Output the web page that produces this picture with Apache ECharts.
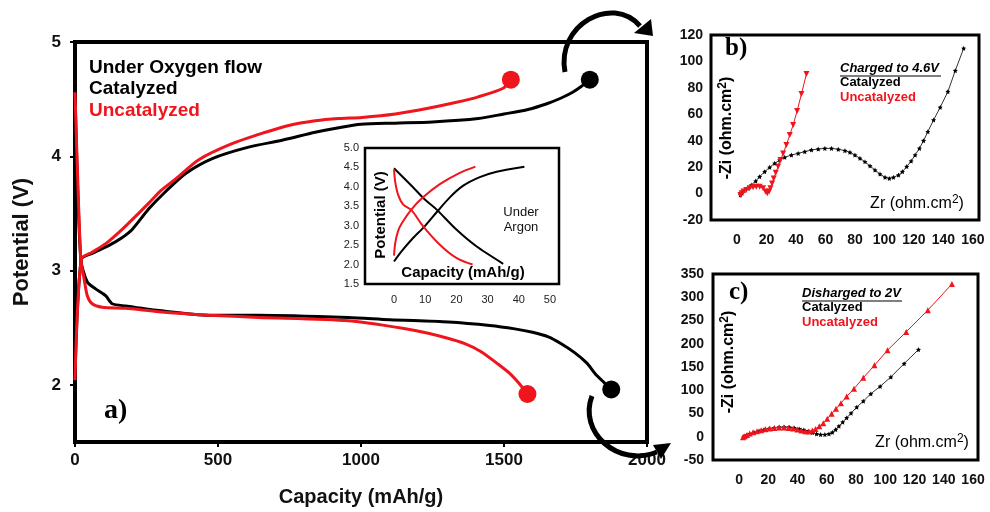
<!DOCTYPE html>
<html>
<head>
<meta charset="utf-8">
<script src="https://cdn.jsdelivr.net/npm/echarts@6/dist/echarts.min.js"></script>
<style>
html,body{margin:0;padding:0;background:#fff;}
#chart{width:990px;height:512px;}
</style>
</head>
<body>
<div id="chart"></div>
<script>
// ---- a) Li-O2 cell under oxygen flow: [capacity mAh/g, potential V] ----
const oxCatCharge = [[0,2.08],[22,3.1],[60,3.15],[119,3.22],[160,3.28],[200,3.36],[258,3.54],[316,3.69],[387,3.85],[480,3.98],[607,4.08],[724,4.14],[840,4.21],[922,4.25],[1000,4.28],[1119,4.29],[1250,4.3],[1410,4.33],[1500,4.37],[1584,4.41],[1650,4.46],[1700,4.51],[1740,4.56],[1770,4.61],[1800,4.67]];
const oxCatDischarge = [[0,4.56],[20,3.1],[43,2.9],[72,2.84],[107,2.78],[130,2.71],[177,2.69],[293,2.65],[467,2.61],[642,2.61],[956,2.59],[1100,2.57],[1305,2.55],[1450,2.52],[1538,2.49],[1600,2.46],[1655,2.42],[1700,2.36],[1748,2.28],[1790,2.19],[1818,2.1],[1850,2.02],[1875,1.96]];
const oxUncatCharge = [[0,2.04],[22,3.1],[60,3.16],[110,3.24],[165,3.36],[210,3.47],[258,3.59],[300,3.7],[351,3.8],[433,3.97],[549,4.11],[666,4.21],[747,4.27],[840,4.31],[922,4.33],[1003,4.34],[1120,4.37],[1235,4.42],[1330,4.47],[1410,4.52],[1497,4.595],[1524,4.67]];
const oxUncatDischarge = [[0,4.56],[20,3.1],[31,2.94],[43,2.78],[60,2.71],[95,2.68],[177,2.67],[293,2.64],[467,2.61],[642,2.59],[956,2.56],[1189,2.475],[1300,2.41],[1363,2.36],[1420,2.29],[1480,2.18],[1520,2.1],[1550,2.02],[1582,1.92]];

// ---- inset: same cells under argon ----
const arCatCharge = [[0,2.08],[2.4,2.34],[5.6,2.64],[9.9,2.99],[13.6,3.34],[17.9,3.73],[22.2,4.03],[27.5,4.25],[32.9,4.39],[41.8,4.52]];
const arCatDischarge = [[0,4.48],[6.1,3.99],[9.8,3.68],[13.6,3.42],[20,2.9],[26.4,2.47],[35,2.02]];
const arUncatCharge = [[0,2.23],[0.4,2.56],[1.3,2.86],[2.4,3.05],[5.6,3.42],[9.3,3.73],[14.7,4.07],[21.1,4.36],[26.1,4.52]];
const arUncatDischarge = [[0,4.45],[0.4,4.12],[1.3,3.8],[2.9,3.55],[5.6,3.4],[9.3,2.99],[14.7,2.51],[20,2.17],[25.2,2.0]];

// ---- b) impedance after charging to 4.6 V: [Zr, -Zi] ohm.cm2 ----
const chgCat = [[2.3,-1.1],[3.4,0.2],[4.8,2.2],[7,4],[9.7,6.5],[12.7,9.5],[15.4,12.8],[18.8,16.6],[22.2,19.9],[25.6,22.9],[29,25.4],[32.4,27.4],[36.9,29.2],[41.5,30.4],[46,31.7],[50.5,33],[55.1,33.7],[59.6,34.2],[64.1,34.2],[68.7,33.5],[73.2,32.5],[76.6,31.2],[80,29.2],[83.4,26.7],[86.8,24.1],[90.2,20.9],[93.6,17.8],[97,14.8],[100.4,12.3],[103.3,11.5],[106.1,12.3],[109.5,14],[112.2,16.6],[115.1,20.4],[118.1,24.6],[120.8,29.2],[123.7,34.2],[126.5,40],[129.4,46.8],[133.3,55.7],[137.8,65.3],[143,77.1],[148,93],[153.7,109.9]];
const chgUncat = [[2.3,-1.1],[3.2,0.2],[4.5,1.5],[6.3,2.7],[8.6,4],[10.9,4.7],[13.1,5.2],[15.4,5.2],[17.7,4],[19.3,1.5],[20.6,0.2],[21.8,1.5],[22.7,4],[23.8,7.7],[24.9,11.5],[26.3,15.8],[27.9,20.4],[29.5,25.4],[31.3,30.4],[33.5,36.8],[35.8,44.3],[38.1,51.9],[40.8,62.5],[43.7,75.3],[47.1,90.5]];

// ---- c) impedance after discharging to 2 V ----
const disCat = [[3.2,0.4],[5,3.2],[7.3,6.1],[10.3,9],[13.7,12.6],[17.1,15.5],[20.6,17.6],[24,19],[27.4,20.5],[30.9,20.5],[34.3,20.5],[37.7,19],[41.1,16.9],[44.3,14.7],[47.3,11.9],[50.3,9],[53,6.1],[55.8,4.7],[58.7,4.7],[61.5,6.1],[63.8,9.7],[66.1,15.5],[68.3,22.7],[70.9,31.3],[73.6,40.6],[76.6,50.7],[80.5,63.7],[85,76.6],[90.1,92.4],[96.5,108.3],[103.8,128.4],[112.9,157.2],[122.7,187.4]];
const disUncat = [[2.7,-1.1],[3.9,1.1],[5.5,4],[7.3,6.8],[9.6,9.7],[12.3,11.9],[15.1,14],[18.1,16.2],[21,17.6],[24.2,19],[27.4,19.8],[30.6,19.8],[33.8,19],[37,17.6],[40,15.5],[42.7,13.3],[45.3,11.9],[47.8,11.2],[50.1,13.3],[52.3,16.9],[54.9,22.7],[57.6,29.1],[60.3,38.5],[63.3,49.3],[66.3,60.1],[69.7,72.3],[73.6,86.7],[78.6,103.2],[85,127],[92.6,153.6],[101.5,186],[114.3,225.5],[129.1,272.3],[145.6,328.4]];

// ---- tick labels ----
const mainPotentialTicks = [2, 3, 4, 5];
const argonCapacityTicks = [0, 10, 20, 30, 40, 50];
const zrTicks = [0, 20, 40, 60, 80, 100, 120, 140, 160];

const BLACK = '#000000';
const RED = '#f0141c';
const SANS = '"Liberation Sans", Arial, sans-serif';
const SERIF = '"Liberation Serif", "Times New Roman", serif';
const STAR = 'path://M0,-10L2.9,-4L9.5,-3.1L4.7,1.5L5.9,8.1L0,5L-5.9,8.1L-4.7,1.5L-9.5,-3.1L-2.9,-4Z';

const last = arr => arr[arr.length - 1];
const plain = v => String(v);

function lbl(size, weight, extra) {
  return Object.assign({ fontFamily: SANS, fontSize: size, fontWeight: weight, color: '#111' }, extra || {});
}

function txt(x, y, text, font, fill, extra) {
  return Object.assign({
    type: 'text', x: x, y: y, z: 100,
    style: { text: text, font: font, fill: fill || BLACK, textAlign: 'left', textVerticalAlign: 'middle' }
  }, extra || {});
}

function richTxt(x, y, text, size, weight, rotation) {
  return {
    type: 'text', x: x, y: y, z: 100, rotation: rotation || 0,
    style: {
      text: text, textAlign: 'center', textVerticalAlign: 'middle', fill: BLACK,
      fontFamily: SANS, fontSize: size, fontWeight: weight,
      rich: {
        n: { fontFamily: SANS, fontSize: size, fontWeight: weight, fill: BLACK, lineHeight: size + 4 },
        s: { fontFamily: SANS, fontSize: Math.round(size * 0.72), fontWeight: weight, fill: BLACK, verticalAlign: 'top', lineHeight: size + 4, padding: [0, 0, 6, 0] }
      }
    }
  };
}

function curve(xi, data, color, width, z, smooth) {
  return {
    type: 'line', xAxisIndex: xi, yAxisIndex: xi, data: data, symbol: 'none',
    smooth: smooth, lineStyle: { color: color, width: width }, z: z
  };
}

const chart = echarts.init(document.getElementById('chart'), null, { renderer: 'canvas' });

const option = {
  backgroundColor: '#ffffff',
  animation: false,
  grid: [
    { left: 75, top: 42, width: 572, height: 400, show: true, borderColor: BLACK, borderWidth: 4, backgroundColor: '#fff' },
    { left: 365, top: 148, width: 194, height: 136, show: true, borderColor: BLACK, borderWidth: 2.5, backgroundColor: '#fff' },
    { left: 711, top: 35, width: 268, height: 185, show: true, borderColor: BLACK, borderWidth: 3, backgroundColor: '#fff' },
    { left: 713, top: 274, width: 265, height: 186, show: true, borderColor: BLACK, borderWidth: 3, backgroundColor: '#fff' }
  ],
  xAxis: [
    {
      type: 'value', gridIndex: 0, min: 0, max: 2000, interval: 500,
      axisLine: { onZero: false, lineStyle: { color: BLACK, width: 4 } },
      axisTick: { show: true, length: 5, lineStyle: { color: BLACK, width: 2 } },
      axisLabel: lbl(17, 'bold', { margin: 10, formatter: plain }),
      splitLine: { show: false },
      name: 'Capacity (mAh/g)', nameLocation: 'middle', nameGap: 45,
      nameTextStyle: lbl(20, 'bold')
    },
    {
      type: 'value', gridIndex: 1, min: -9.3, max: 52.9,
      axisLine: { show: false, onZero: false },
      axisTick: { show: false },
      axisLabel: lbl(11, 'normal', { margin: 10, customValues: argonCapacityTicks, color: '#222', formatter: plain }),
      splitLine: { show: false }
    },
    {
      type: 'value', gridIndex: 2, min: -17.6, max: 164.1,
      axisLine: { show: false, onZero: false },
      axisTick: { show: false },
      axisLabel: lbl(14, 'bold', { margin: 13, customValues: zrTicks, formatter: plain }),
      splitLine: { show: false }
    },
    {
      type: 'value', gridIndex: 3, min: -17.8, max: 163.4,
      axisLine: { show: false, onZero: false },
      axisTick: { show: false },
      axisLabel: lbl(14, 'bold', { margin: 13, customValues: zrTicks, formatter: plain }),
      splitLine: { show: false }
    }
  ],
  yAxis: [
    {
      type: 'value', gridIndex: 0, min: 1.5, max: 5,
      axisLine: { onZero: false, lineStyle: { color: BLACK, width: 4 } },
      axisTick: { show: true, length: 5, customValues: mainPotentialTicks, lineStyle: { color: BLACK, width: 2 } },
      axisLabel: lbl(17, 'bold', { margin: 14, customValues: mainPotentialTicks, formatter: plain }),
      splitLine: { show: false },
      name: 'Potential (V)', nameLocation: 'middle', nameRotate: 90, nameGap: 42,
      nameTextStyle: lbl(22, 'bold')
    },
    {
      type: 'value', gridIndex: 1, min: 1.5, max: 5, interval: 0.5,
      axisLine: { show: false, onZero: false },
      axisTick: { show: false },
      axisLabel: lbl(11, 'normal', { margin: 6, color: '#222', formatter: v => v.toFixed(1) }),
      splitLine: { show: false }
    },
    {
      type: 'value', gridIndex: 2, min: -20, max: 120, interval: 20,
      axisLine: { show: false, onZero: false },
      axisTick: { show: false },
      axisLabel: lbl(14, 'bold', { margin: 8, formatter: plain }),
      splitLine: { show: false }
    },
    {
      type: 'value', gridIndex: 3, min: -50, max: 350, interval: 50,
      axisLine: { show: false, onZero: false },
      axisTick: { show: false },
      axisLabel: lbl(14, 'bold', { margin: 9, formatter: plain }),
      splitLine: { show: false }
    }
  ],
  series: [
    // a) oxygen flow curves
    curve(0, oxCatCharge, BLACK, 3, 3, 0.25),
    curve(0, oxCatDischarge, BLACK, 3, 3, 0.25),
    curve(0, oxUncatCharge, RED, 3, 4, 0.25),
    curve(0, oxUncatDischarge, RED, 3, 4, 0.25),
    { type: 'scatter', xAxisIndex: 0, yAxisIndex: 0, data: [last(oxCatCharge), last(oxCatDischarge)], symbolSize: 18, itemStyle: { color: BLACK, opacity: 1 }, z: 6 },
    { type: 'scatter', xAxisIndex: 0, yAxisIndex: 0, data: [last(oxUncatCharge), last(oxUncatDischarge)], symbolSize: 18, itemStyle: { color: RED, opacity: 1 }, z: 6 },
    // inset: argon
    curve(1, arCatCharge, BLACK, 2, 8, 0.3),
    curve(1, arCatDischarge, BLACK, 2, 8, 0.3),
    curve(1, arUncatCharge, RED, 2, 8, 0.3),
    curve(1, arUncatDischarge, RED, 2, 8, 0.3),
    // b) Nyquist after charge
    { type: 'line', xAxisIndex: 2, yAxisIndex: 2, data: chgCat, symbol: STAR, symbolSize: 5, showAllSymbol: true, itemStyle: { color: BLACK }, lineStyle: { color: '#333', width: 1 }, z: 3 },
    { type: 'line', xAxisIndex: 2, yAxisIndex: 2, data: chgUncat, symbol: 'triangle', symbolRotate: 180, symbolSize: 6, showAllSymbol: true, itemStyle: { color: RED }, lineStyle: { color: RED, width: 1 }, z: 4 },
    // c) Nyquist after discharge
    { type: 'line', xAxisIndex: 3, yAxisIndex: 3, data: disCat, symbol: STAR, symbolSize: 5, showAllSymbol: true, itemStyle: { color: BLACK }, lineStyle: { color: '#333', width: 1 }, z: 3 },
    { type: 'line', xAxisIndex: 3, yAxisIndex: 3, data: disUncat, symbol: 'triangle', symbolSize: 6, showAllSymbol: true, itemStyle: { color: RED }, lineStyle: { color: RED, width: 1 }, z: 4 }
  ],
  graphic: [
    // a) labels
    txt(89, 68, 'Under Oxygen flow', 'bold 19px ' + SANS),
    txt(89, 89, 'Catalyzed', 'bold 19px ' + SANS),
    txt(89, 111, 'Uncatalyzed', 'bold 19px ' + SANS, RED),
    txt(104, 411, 'a)', 'bold 28px ' + SERIF),
    // inset labels
    {
      type: 'text', x: 381, y: 215, rotation: Math.PI / 2, z: 100,
      style: { text: 'Potential (V)', font: 'bold 15px ' + SANS, fill: BLACK, textAlign: 'center', textVerticalAlign: 'middle' }
    },
    {
      type: 'text', x: 463, y: 273, z: 100,
      style: { text: 'Capacity (mAh/g)', font: 'bold 15px ' + SANS, fill: BLACK, textAlign: 'center', textVerticalAlign: 'middle' }
    },
    {
      type: 'text', x: 521, y: 212, z: 100,
      style: { text: 'Under', font: '13px ' + SANS, fill: '#111', textAlign: 'center', textVerticalAlign: 'middle' }
    },
    {
      type: 'text', x: 521, y: 227, z: 100,
      style: { text: 'Argon', font: '13px ' + SANS, fill: '#111', textAlign: 'center', textVerticalAlign: 'middle' }
    },
    // b) labels
    txt(725, 49, 'b)', 'bold 25px ' + SERIF),
    txt(840, 68, 'Charged to 4.6V', 'italic bold 13px ' + SANS),
    { type: 'line', z: 100, shape: { x1: 840, y1: 76, x2: 941, y2: 76 }, style: { stroke: BLACK, lineWidth: 1.2 } },
    txt(840, 82, 'Catalyzed', 'bold 13px ' + SANS),
    txt(840, 97, 'Uncatalyzed', 'bold 13px ' + SANS, RED),
    richTxt(727, 128, '{n|-Zi (ohm.cm}{s|2}{n|)}', 16, 'bold', Math.PI / 2),
    richTxt(917, 204, '{n|Zr (ohm.cm}{s|2}{n|)}', 16, 'normal', 0),
    // c) labels
    txt(729, 293, 'c)', 'bold 25px ' + SERIF),
    txt(802, 293, 'Disharged to 2V', 'italic bold 13px ' + SANS),
    { type: 'line', z: 100, shape: { x1: 802, y1: 301, x2: 902, y2: 301 }, style: { stroke: BLACK, lineWidth: 1.2 } },
    txt(802, 307, 'Catalyzed', 'bold 13px ' + SANS),
    txt(802, 322, 'Uncatalyzed', 'bold 13px ' + SANS, RED),
    richTxt(729, 362, '{n|-Zi (ohm.cm}{s|2}{n|)}', 16, 'bold', Math.PI / 2),
    richTxt(922, 443, '{n|Zr (ohm.cm}{s|2}{n|)}', 16, 'normal', 0),
    // curved pointers from the end of charge / discharge to panels b and c
    {
      type: 'bezierCurve', z: 110,
      shape: { x1: 565, y1: 72, cpx1: 556, cpy1: 25, cpx2: 612, cpy2: -6, x2: 640, y2: 26 },
      style: { stroke: BLACK, lineWidth: 5, fill: null }
    },
    { type: 'polygon', z: 110, shape: { points: [[653, 36], [634, 33], [651, 19]] }, style: { fill: BLACK } },
    {
      type: 'bezierCurve', z: 110,
      shape: { x1: 592, y1: 396, cpx1: 578, cpy1: 432, cpx2: 618, cpy2: 468, x2: 657, y2: 452 },
      style: { stroke: BLACK, lineWidth: 5, fill: null }
    },
    { type: 'polygon', z: 110, shape: { points: [[671, 443], [653, 445], [661, 459]] }, style: { fill: BLACK } }
  ]
};

chart.setOption(option);
</script>
</body>
</html>
